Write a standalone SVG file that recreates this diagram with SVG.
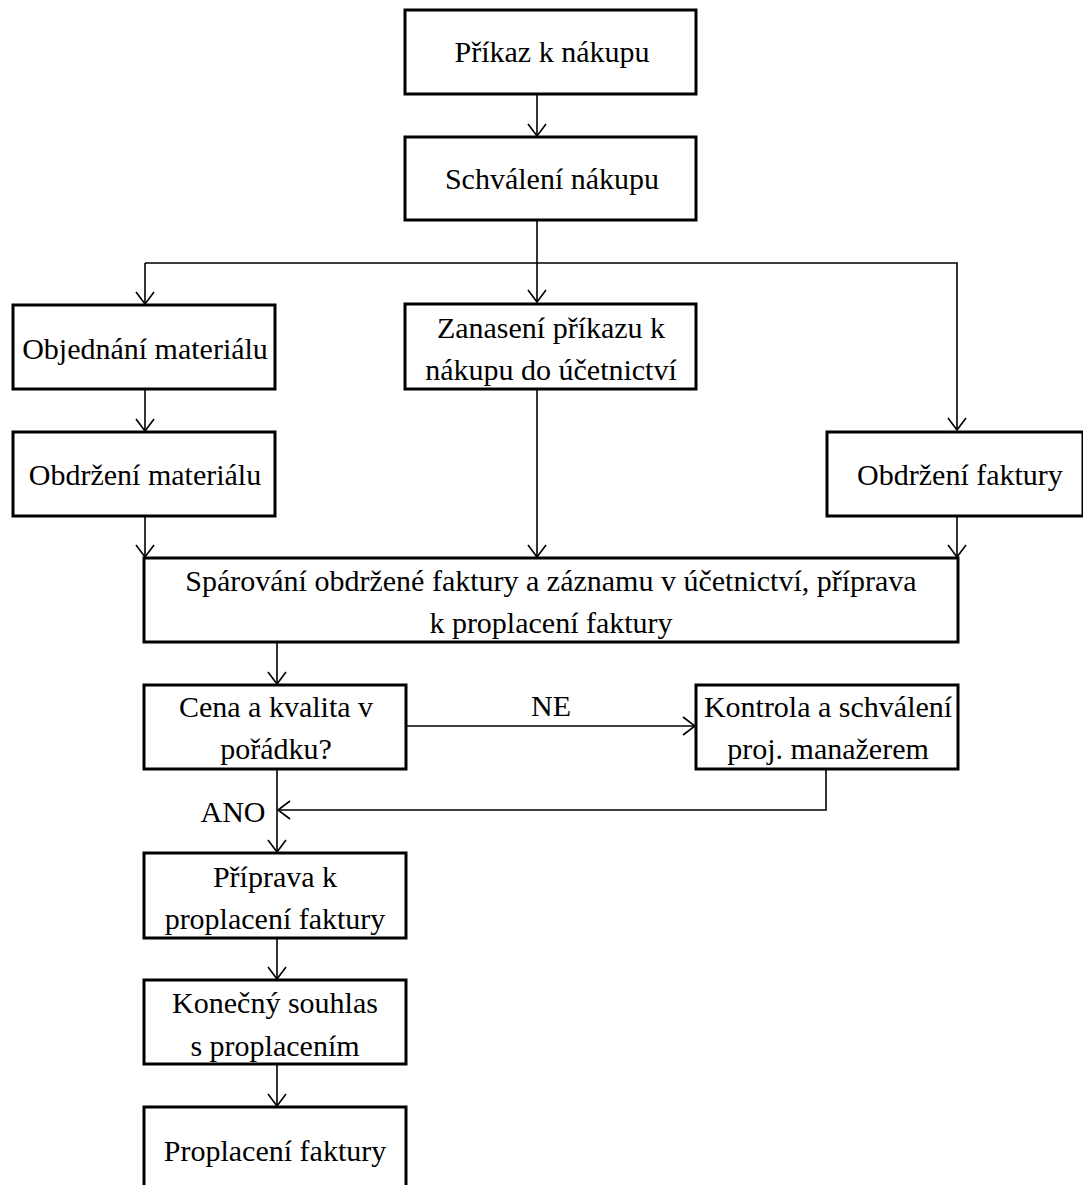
<svg xmlns="http://www.w3.org/2000/svg" width="1083" height="1185" viewBox="0 0 1083 1185">
<style>
.box{fill:#fff;stroke:#000;stroke-width:3}
.t{font-family:"Liberation Serif","Times New Roman",serif;font-size:30px;fill:#000;text-anchor:middle}
.c{fill:none;stroke:#000;stroke-width:1.6}
</style>
<defs>
<marker id="a" viewBox="0 0 14 20" refX="13" refY="10" markerWidth="14" markerHeight="20" markerUnits="userSpaceOnUse" orient="auto">
<path d="M1,1 L13,10 L1,19" fill="none" stroke="#000" stroke-width="1.6"/>
</marker>
</defs>
<rect width="1083" height="1185" fill="#fff"/>
<g id="connectors">
<line class="c" x1="537" y1="94" x2="537" y2="136" marker-end="url(#a)"/>
<line class="c" x1="537" y1="220" x2="537" y2="302" marker-end="url(#a)"/>
<polyline class="c" points="145,263 957,263 957,430" marker-end="url(#a)"/>
<line class="c" x1="145" y1="263" x2="145" y2="304" marker-end="url(#a)"/>
<line class="c" x1="145" y1="389" x2="145" y2="431" marker-end="url(#a)"/>
<line class="c" x1="145" y1="516" x2="145" y2="557" marker-end="url(#a)"/>
<line class="c" x1="537" y1="389" x2="537" y2="557" marker-end="url(#a)"/>
<line class="c" x1="957" y1="516" x2="957" y2="557" marker-end="url(#a)"/>
<line class="c" x1="277" y1="642" x2="277" y2="684" marker-end="url(#a)"/>
<line class="c" x1="406" y1="726" x2="695" y2="726" marker-end="url(#a)"/>
<polyline class="c" points="826,769 826,810 278,810" marker-end="url(#a)"/>
<line class="c" x1="277" y1="769" x2="277" y2="852" marker-end="url(#a)"/>
<line class="c" x1="277" y1="938" x2="277" y2="979" marker-end="url(#a)"/>
<line class="c" x1="277" y1="1064" x2="277" y2="1106" marker-end="url(#a)"/>
<text class="t" x="551" y="716">NE</text>
<text class="t" x="233" y="822">ANO</text>
</g>
<g id="n1"><rect class="box" x="405" y="10" width="291" height="84"/><text class="t" x="552" y="62">Příkaz k nákupu</text></g>
<g id="n2"><rect class="box" x="405" y="137" width="291" height="83"/><text class="t" x="552" y="189">Schválení nákupu</text></g>
<g id="n3"><rect class="box" x="13" y="305" width="262" height="84"/><text class="t" x="145" y="359">Objednání materiálu</text></g>
<g id="n4"><rect class="box" x="405" y="304" width="291" height="85"/><text class="t" x="551" y="338">Zanasení příkazu k</text><text class="t" x="551" y="380">nákupu do účetnictví</text></g>
<g id="n5"><rect class="box" x="13" y="432" width="262" height="84"/><text class="t" x="145" y="485">Obdržení materiálu</text></g>
<g id="n6"><rect class="box" x="827" y="432" width="256" height="84"/><text class="t" x="960" y="485">Obdržení faktury</text></g>
<g id="n7"><rect class="box" x="144" y="558" width="814" height="84"/><text class="t" x="551" y="591">Spárování obdržené faktury a záznamu v účetnictví, příprava</text><text class="t" x="551" y="633">k proplacení faktury</text></g>
<g id="n8"><rect class="box" x="144" y="685" width="262" height="84"/><text class="t" x="276" y="717">Cena a kvalita v</text><text class="t" x="276" y="759">pořádku?</text></g>
<g id="n9"><rect class="box" x="696" y="685" width="262" height="84"/><text class="t" x="828" y="717">Kontrola a schválení</text><text class="t" x="828" y="759">proj. manažerem</text></g>
<g id="n10"><rect class="box" x="144" y="853" width="262" height="85"/><text class="t" x="275" y="887">Příprava k</text><text class="t" x="275" y="929">proplacení faktury</text></g>
<g id="n11"><rect class="box" x="144" y="980" width="262" height="84"/><text class="t" x="275" y="1013">Konečný souhlas</text><text class="t" x="275" y="1056">s proplacením</text></g>
<g id="n12"><rect class="box" x="144" y="1107" width="262" height="90"/><text class="t" x="275" y="1161">Proplacení faktury</text></g>
</svg>
